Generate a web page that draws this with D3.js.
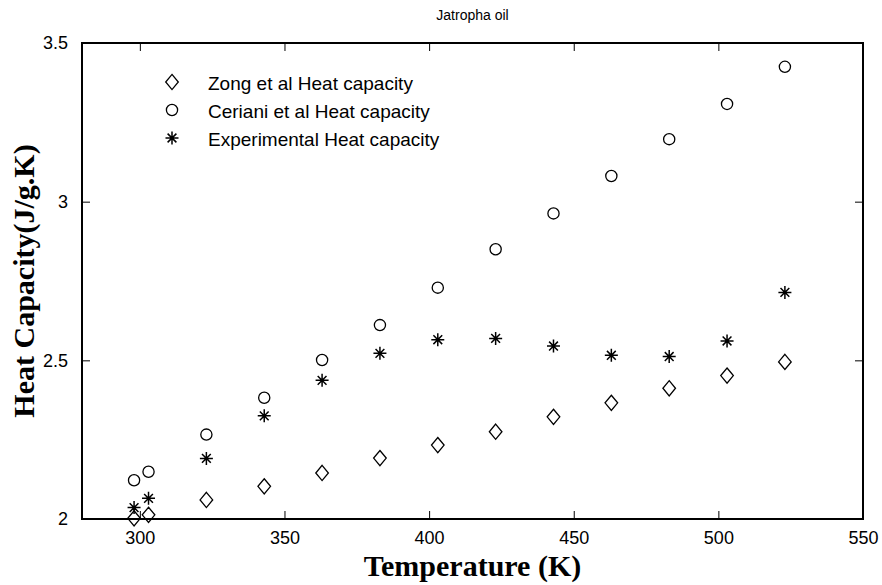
<!DOCTYPE html>
<html>
<head>
<meta charset="utf-8">
<script src="https://cdn.jsdelivr.net/npm/d3@7"></script>
<style>
  html, body { margin: 0; padding: 0; background: #fff; }
  svg { display: block; }
</style>
</head>
<body>
<svg id="chart" width="882" height="585"></svg>
<script>
// ---- data ----
const temperatures = [298, 303, 323, 343, 363, 383, 403, 423, 443, 463, 483, 503, 523];
const zongValues = [2.002, 2.013, 2.060, 2.103, 2.145, 2.192, 2.233, 2.275, 2.322, 2.366, 2.412, 2.452, 2.495];
const cerianiValues = [2.122, 2.149, 2.266, 2.382, 2.501, 2.611, 2.729, 2.850, 2.963, 3.081, 3.197, 3.308, 3.425];
const experimentalValues = [2.036, 2.065, 2.191, 2.325, 2.437, 2.522, 2.565, 2.569, 2.545, 2.516, 2.512, 2.561, 2.714];
const seriesNames = ["Zong et al Heat capacity", "Ceriani et al Heat capacity", "Experimental Heat capacity"];
const seriesMarkers = ["diamond", "circle", "star"];
const xTicks = [300, 350, 400, 450, 500, 550];
const yTicks = [2, 2.5, 3, 3.5];
const titleText = "Jatropha oil";
const xLabel = "Temperature (K)";
const yLabel = "Heat Capacity(J/g.K)";

// ---- layout ----
const W = 882, H = 585;
const margin = { left: 82, right: 19, top: 43, bottom: 66 };
const svg = d3.select("#chart");
const x = d3.scaleLinear().domain([280, 550]).range([margin.left, W - margin.right]);
const y = d3.scaleLinear().domain([2, 3.5]).range([H - margin.bottom, margin.top]);

const seriesValues = [zongValues, cerianiValues, experimentalValues];

function markerPath(type) {
  if (type === "diamond") {
    return "M0,-7.6L6.3,0L0,7.6L-6.3,0Z";
  } else if (type === "circle") {
    return d3.arc()({ innerRadius: 0, outerRadius: 5.6, startAngle: 0, endAngle: 2 * Math.PI });
  } else {
    const a = 6.5, d = 4.4;
    return `M${-a},0L${a},0M0,${-a}L0,${a}M${-d},${-d}L${d},${d}M${-d},${d}L${d},${-d}`;
  }
}

// ---- axes (MATLAB style box with inward ticks) ----
const tickLen = 8;
const font = "Arial, 'Liberation Sans', Helvetica, sans-serif";

const xAxisBottom = d3.axisBottom(x).tickValues(xTicks).tickSize(-tickLen).tickPadding(12).tickFormat(d3.format("d"));
const xAxisTop = d3.axisTop(x).tickValues(xTicks).tickSize(-tickLen).tickFormat("");
const yAxisLeft = d3.axisLeft(y).tickValues(yTicks).tickSize(-tickLen).tickPadding(14).tickFormat(d => String(d));
const yAxisRight = d3.axisRight(y).tickValues(yTicks).tickSize(-tickLen).tickFormat("");

function styleAxis(g) {
  g.select(".domain").remove();
  g.selectAll(".tick line").attr("stroke", "#000").attr("stroke-width", 1);
  g.selectAll(".tick text").attr("fill", "#000").style("font-family", font).style("font-size", "18px");
}

svg.append("g").attr("transform", `translate(0,${y.range()[0]})`).call(xAxisBottom).call(styleAxis);
svg.append("g").attr("transform", `translate(0,${y.range()[1]})`).call(xAxisTop).call(styleAxis);
svg.append("g").attr("transform", `translate(${x.range()[0]},0)`).call(yAxisLeft).call(styleAxis);
svg.append("g").attr("transform", `translate(${x.range()[1]},0)`).call(yAxisRight).call(styleAxis);

// frame
svg.append("rect")
  .attr("x", x.range()[0]).attr("y", y.range()[1])
  .attr("width", x.range()[1] - x.range()[0])
  .attr("height", y.range()[0] - y.range()[1])
  .attr("fill", "none").attr("stroke", "#000").attr("stroke-width", 2);

// ---- marks ----
seriesValues.forEach((vals, i) => {
  svg.append("g").selectAll("path")
    .data(vals.map((v, j) => ({ t: temperatures[j], v })))
    .join("path")
    .attr("transform", d => `translate(${x(d.t)},${y(d.v)})`)
    .attr("d", markerPath(seriesMarkers[i]))
    .attr("fill", "none")
    .attr("stroke", "#000")
    .attr("stroke-width", seriesMarkers[i] === "star" ? 1.5 : 1.3);
});

// ---- legend ----
const legend = svg.append("g");
const legendRows = [82, 110, 138];
seriesNames.forEach((name, i) => {
  legend.append("path")
    .attr("transform", `translate(172,${legendRows[i]})`)
    .attr("d", markerPath(seriesMarkers[i]))
    .attr("fill", "none").attr("stroke", "#000")
    .attr("stroke-width", seriesMarkers[i] === "star" ? 1.5 : 1.3);
  legend.append("text")
    .attr("x", 208).attr("y", legendRows[i] + 8)
    .style("font-family", font).style("font-size", "19px")
    .attr("fill", "#000")
    .text(name);
});

// ---- title & labels ----
svg.append("text")
  .attr("x", (x.range()[0] + x.range()[1]) / 2).attr("y", 20)
  .attr("text-anchor", "middle")
  .style("font-family", font).style("font-size", "14px")
  .attr("fill", "#000")
  .text(titleText);

svg.append("text")
  .attr("x", (x.range()[0] + x.range()[1]) / 2).attr("y", 576)
  .attr("text-anchor", "middle")
  .style("font-family", "'Times New Roman', 'Liberation Serif', serif")
  .style("font-weight", "bold").style("font-size", "30px")
  .attr("fill", "#000")
  .text(xLabel);

svg.append("text")
  .attr("transform", `translate(34,${(y.range()[0] + y.range()[1]) / 2}) rotate(-90)`)
  .attr("text-anchor", "middle")
  .style("font-family", "'Times New Roman', 'Liberation Serif', serif")
  .style("font-weight", "bold").style("font-size", "30px")
  .attr("fill", "#000")
  .text(yLabel);
</script>
</body>
</html>
